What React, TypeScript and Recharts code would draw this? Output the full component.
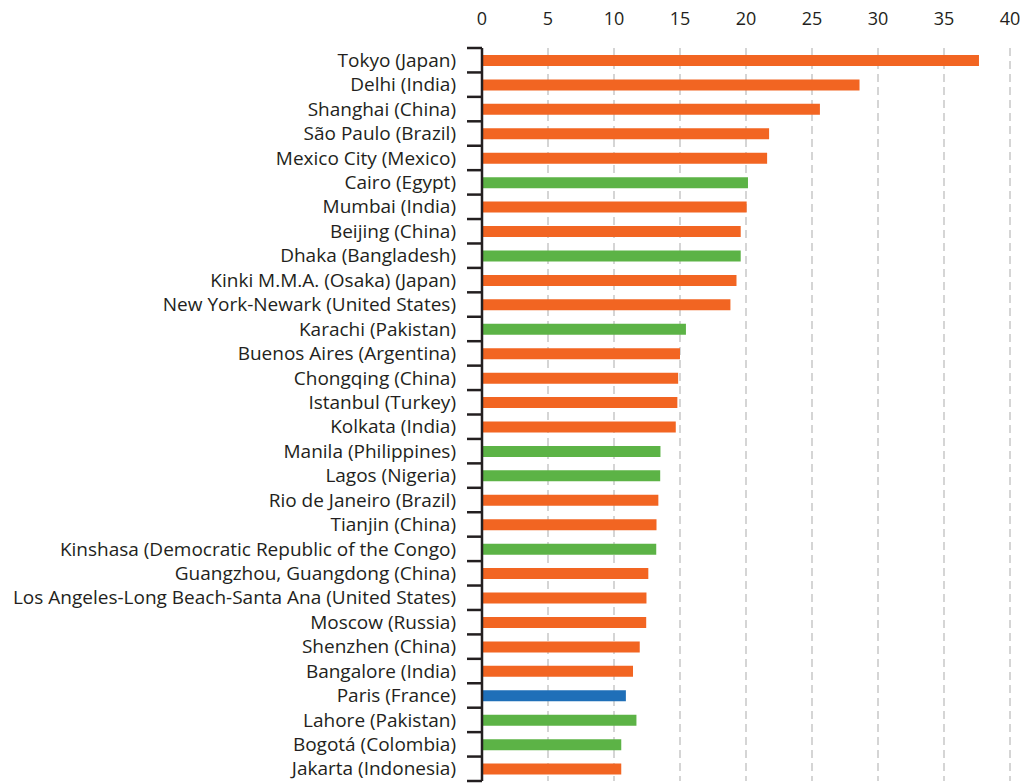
import React from "react";
import { BarChart, Bar, XAxis, YAxis, CartesianGrid, Cell } from "recharts";

const cities = [
  "Tokyo (Japan)",
  "Delhi (India)",
  "Shanghai (China)",
  "São Paulo (Brazil)",
  "Mexico City (Mexico)",
  "Cairo (Egypt)",
  "Mumbai (India)",
  "Beijing (China)",
  "Dhaka (Bangladesh)",
  "Kinki M.M.A. (Osaka) (Japan)",
  "New York-Newark (United States)",
  "Karachi (Pakistan)",
  "Buenos Aires (Argentina)",
  "Chongqing (China)",
  "Istanbul (Turkey)",
  "Kolkata (India)",
  "Manila (Philippines)",
  "Lagos (Nigeria)",
  "Rio de Janeiro (Brazil)",
  "Tianjin (China)",
  "Kinshasa (Democratic Republic of the Congo)",
  "Guangzhou, Guangdong (China)",
  "Los Angeles-Long Beach-Santa Ana (United States)",
  "Moscow (Russia)",
  "Shenzhen (China)",
  "Bangalore (India)",
  "Paris (France)",
  "Lahore (Pakistan)",
  "Bogotá (Colombia)",
  "Jakarta (Indonesia)",
];

const population = [
  37.65, 28.6, 25.6, 21.75, 21.6, 20.15, 20.05, 19.6, 19.6, 19.28,
  18.82, 15.45, 15.0, 14.86, 14.8, 14.68, 13.52, 13.5, 13.36, 13.22,
  13.2, 12.6, 12.46, 12.44, 11.95, 11.44, 10.9, 11.7, 10.55, 10.55,
];

const groups = [
  "o", "o", "o", "o", "o", "g", "o", "o", "g", "o",
  "o", "g", "o", "o", "o", "o", "g", "g", "o", "o",
  "g", "o", "o", "o", "o", "o", "b", "g", "g", "o",
];

const xTicks = [0, 5, 10, 15, 20, 25, 30, 35, 40];

const groupColors: Record<string, string> = {
  o: "#F26522",
  g: "#5CB346",
  b: "#1F6FB8",
};

const data = cities.map((c, i) => ({ city: c, value: population[i], group: groups[i] }));

const W = 1025;
const H = 783;
const M = { top: 18, right: 15, bottom: 2, left: 0 };
const X_AXIS_H = 30;
const Y_AXIS_W = 482;
const PLOT_H = H - M.top - M.bottom - X_AXIS_H;
const BAND = PLOT_H / cities.length;
const FONT = "'Open Sans', sans-serif";
const TEXT = "#231f20";

const XTick = (props: any) => {
  const { x, payload } = props;
  return (
    <text x={x} y={25} textAnchor="middle" fontSize={18} fontFamily={FONT} fill={TEXT}>
      {payload.value}
    </text>
  );
};

const YTick = (props: any) => {
  const { x, y, payload, index } = props;
  const axisX = Y_AXIS_W;
  const last = index === cities.length - 1;
  return (
    <g>
      <text
        x={axisX - 26}
        y={y}
        dy="0.35em"
        textAnchor="end"
        fontSize={19}
        fontFamily={FONT}
        fill={TEXT}
      >
        {payload.value}
      </text>
      <line x1={axisX - 15} x2={axisX} y1={y - BAND / 2} y2={y - BAND / 2} stroke={TEXT} strokeWidth={2.5} />
      {last && (
        <line x1={axisX - 15} x2={axisX} y1={y + BAND / 2} y2={y + BAND / 2} stroke={TEXT} strokeWidth={2.5} />
      )}
    </g>
  );
};

export default function App() {
  return (
    <div style={{ position: "absolute", left: 0, top: 0, width: W, height: H, background: "#fff" }}>
      <BarChart width={W} height={H} data={data} layout="vertical" margin={M}>
        <CartesianGrid
          horizontal={false}
          vertical={true}
          stroke="#c8c8c8"
          strokeWidth={1.5}
          strokeDasharray="8 5"
        />
        <XAxis
          type="number"
          orientation="top"
          domain={[0, 40]}
          ticks={xTicks}
          height={X_AXIS_H}
          axisLine={false}
          tickLine={false}
          tick={<XTick />}
          interval={0}
        />
        <YAxis
          type="category"
          dataKey="city"
          width={Y_AXIS_W}
          axisLine={{ stroke: TEXT, strokeWidth: 2.5 }}
          tickLine={false}
          tick={<YTick />}
          interval={0}
        />
        <Bar dataKey="value" barSize={11} isAnimationActive={false}>
          {data.map((d, i) => (
            <Cell key={i} fill={groupColors[d.group]} />
          ))}
        </Bar>
      </BarChart>
    </div>
  );
}
